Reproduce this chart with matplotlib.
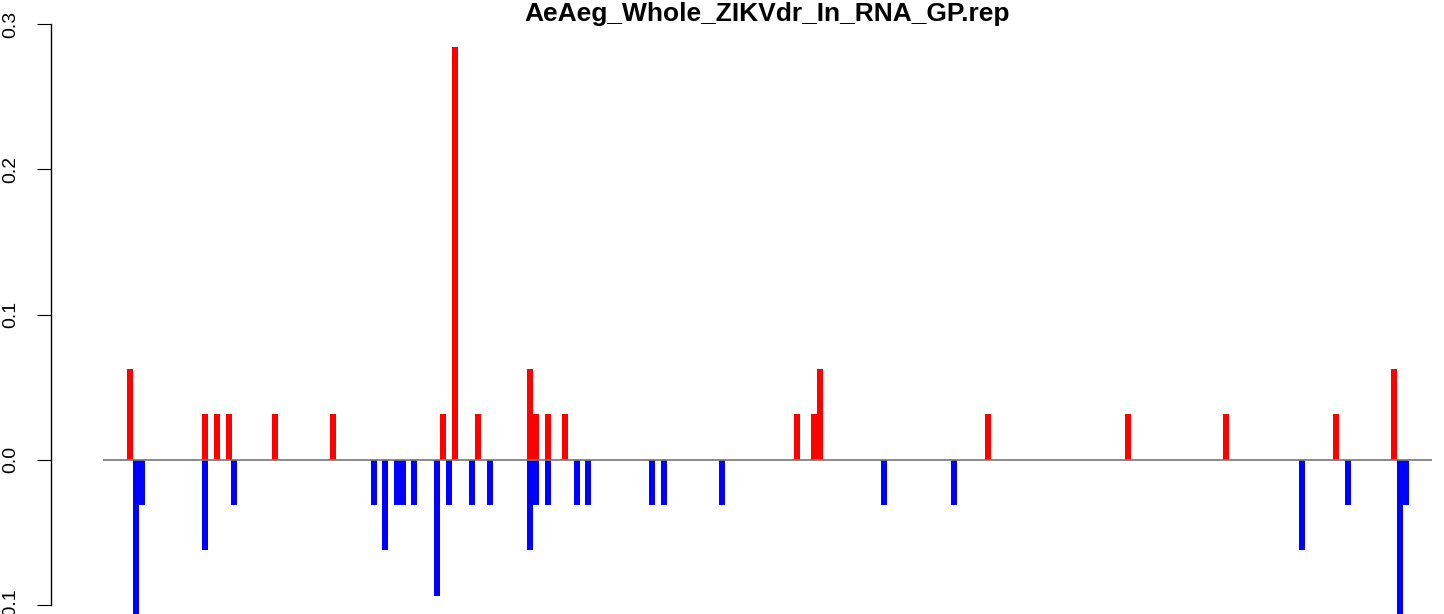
###############################################################################
## Strand coverage barplot (plus strand up in red, minus strand down in blue)
###############################################################################

import matplotlib.pyplot as plt

###############################################################################
## Data
###############################################################################

title = 'AeAeg_Whole_ZIKVdr_In_RNA_GP.rep'

# Plus strand: position and fraction
pos_plus = [130, 205, 217, 229, 275, 333, 443, 455, 478, 530, 536, 548, 565,
            797, 814, 820, 988, 1128, 1226, 1336, 1394]
val_plus = [0.0625, 0.03125, 0.03125, 0.03125, 0.03125, 0.03125, 0.03125,
            0.284, 0.03125, 0.0625, 0.03125, 0.03125, 0.03125, 0.03125,
            0.03125, 0.0625, 0.03125, 0.03125, 0.03125, 0.03125, 0.0625]

# Minus strand: position and (negative) fraction
pos_minus = [136, 142, 205, 234, 374, 385, 397, 403, 414, 437, 449, 472, 490,
             530, 536, 548, 577, 588, 652, 664, 722, 884, 954, 1302, 1348,
             1400, 1406]
val_minus = [-0.125, -0.03125, -0.0625, -0.03125, -0.03125, -0.0625, -0.03125,
             -0.03125, -0.03125, -0.09375, -0.03125, -0.03125, -0.03125,
             -0.0625, -0.03125, -0.03125, -0.03125, -0.03125, -0.03125,
             -0.03125, -0.03125, -0.03125, -0.03125, -0.0625, -0.03125,
             -0.125, -0.03125]

yticks = [-0.1, 0.0, 0.1, 0.2, 0.3]
ytick_labels = ['-0.1', '0.0', '0.1', '0.2', '0.3']

###############################################################################
## Plot
###############################################################################

plt.rcParams['font.family'] = ['Liberation Sans', 'DejaVu Sans']

W, H = 1444, 614
fig = plt.figure(figsize=(W / 100, H / 100), dpi=100)
ax_left = 50.7
ax = fig.add_axes([ax_left / W, 0, 1 - ax_left / W, 1])

ax.bar(pos_plus, val_plus, width=6, color='#FF0000', linewidth=0)
ax.bar(pos_minus, val_minus, width=6, color='#0000FF', linewidth=0)
ax.hlines(0, 103, 1432, color='#777777', linewidth=1.2, zorder=3)

# 0.0 sits at pixel row 459.7, 0.1 per 145.2 px
ppu = 1452.0
ax.set_xlim(ax_left, W)
ax.set_ylim(-(H - 459.7) / ppu, 459.7 / ppu)

for s in ['top', 'right', 'bottom']:
    ax.spines[s].set_visible(False)
ax.spines['left'].set_bounds(-0.1, 0.3)
ax.spines['left'].set_linewidth(1.0)
ax.set_xticks([])
ax.set_yticks(yticks)
ax.set_yticklabels(ytick_labels, rotation=90, va='center', fontsize=14)
ax.tick_params(axis='y', length=10, width=0.8, pad=12.5)
ax.patch.set_visible(False)

fig.text(767.5 / W, 1 - 2 / H, title, ha='center', va='top',
         fontsize=19, fontweight='bold')

plt.savefig('out.png', dpi=100)
